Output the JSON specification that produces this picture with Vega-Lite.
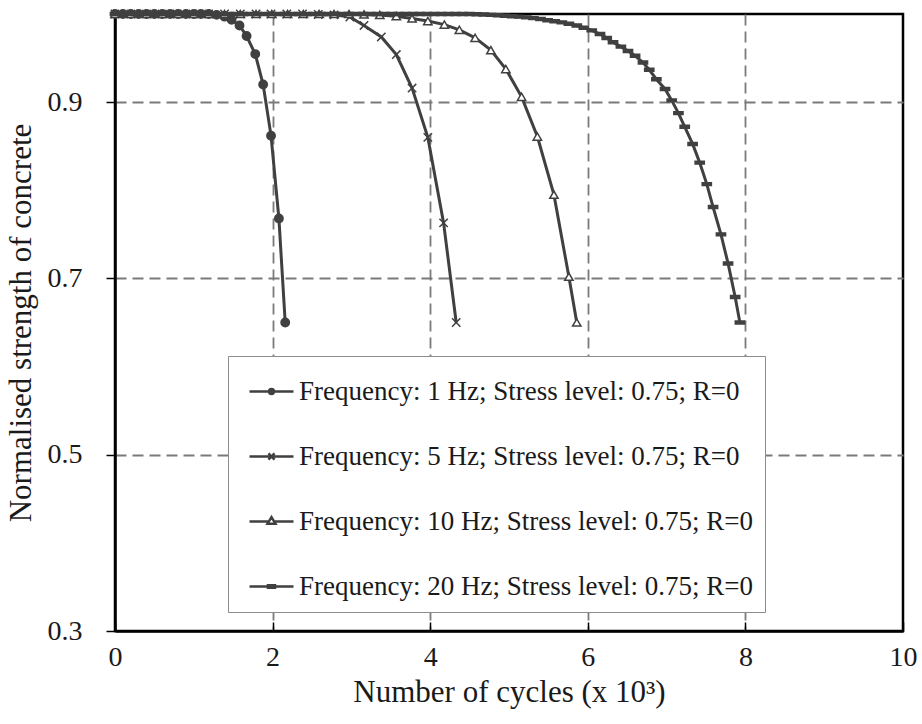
{
  "$schema": "https://vega.github.io/schema/vega-lite/v6.json",
  "width": 788,
  "height": 617,
  "autosize": {"type": "none"},
  "padding": {"left": 115, "top": 14, "right": 19, "bottom": 93},
  "background": "white",
  "data": {
    "values": [
      {"f": "1", "n": 0, "s": 1}, {"f": "1", "n": 0.1, "s": 1}, {"f": "1", "n": 0.2, "s": 1}, {"f": "1", "n": 0.3, "s": 1},
      {"f": "1", "n": 0.4, "s": 1}, {"f": "1", "n": 0.5, "s": 1}, {"f": "1", "n": 0.6, "s": 1}, {"f": "1", "n": 0.7, "s": 1},
      {"f": "1", "n": 0.8, "s": 1}, {"f": "1", "n": 0.9, "s": 1}, {"f": "1", "n": 1.0, "s": 1}, {"f": "1", "n": 1.09, "s": 1},
      {"f": "1", "n": 1.19, "s": 1}, {"f": "1", "n": 1.29, "s": 0.999}, {"f": "1", "n": 1.39, "s": 0.997},
      {"f": "1", "n": 1.48, "s": 0.9935}, {"f": "1", "n": 1.58, "s": 0.987}, {"f": "1", "n": 1.67, "s": 0.975},
      {"f": "1", "n": 1.78, "s": 0.9545}, {"f": "1", "n": 1.88, "s": 0.92}, {"f": "1", "n": 1.98, "s": 0.862},
      {"f": "1", "n": 2.08, "s": 0.768}, {"f": "1", "n": 2.16, "s": 0.65},

      {"f": "5", "n": 0, "s": 1}, {"f": "5", "n": 0.2, "s": 1}, {"f": "5", "n": 0.4, "s": 1}, {"f": "5", "n": 0.6, "s": 1},
      {"f": "5", "n": 0.79, "s": 1}, {"f": "5", "n": 0.99, "s": 1}, {"f": "5", "n": 1.19, "s": 1}, {"f": "5", "n": 1.39, "s": 1},
      {"f": "5", "n": 1.59, "s": 1}, {"f": "5", "n": 1.79, "s": 1}, {"f": "5", "n": 1.98, "s": 1}, {"f": "5", "n": 2.18, "s": 1},
      {"f": "5", "n": 2.38, "s": 1}, {"f": "5", "n": 2.58, "s": 0.9995}, {"f": "5", "n": 2.78, "s": 0.999},
      {"f": "5", "n": 2.98, "s": 0.9966}, {"f": "5", "n": 3.16, "s": 0.987}, {"f": "5", "n": 3.38, "s": 0.974},
      {"f": "5", "n": 3.57, "s": 0.954}, {"f": "5", "n": 3.77, "s": 0.916}, {"f": "5", "n": 3.97, "s": 0.86},
      {"f": "5", "n": 4.17, "s": 0.763}, {"f": "5", "n": 4.33, "s": 0.65},

      {"f": "10", "n": 0, "s": 1}, {"f": "10", "n": 0.2, "s": 1}, {"f": "10", "n": 0.4, "s": 1}, {"f": "10", "n": 0.6, "s": 1},
      {"f": "10", "n": 0.8, "s": 1}, {"f": "10", "n": 1.0, "s": 1}, {"f": "10", "n": 1.19, "s": 1}, {"f": "10", "n": 1.39, "s": 1},
      {"f": "10", "n": 1.59, "s": 1}, {"f": "10", "n": 1.79, "s": 1}, {"f": "10", "n": 1.99, "s": 1}, {"f": "10", "n": 2.19, "s": 1},
      {"f": "10", "n": 2.39, "s": 1}, {"f": "10", "n": 2.59, "s": 1}, {"f": "10", "n": 2.78, "s": 1}, {"f": "10", "n": 2.97, "s": 1},
      {"f": "10", "n": 3.16, "s": 0.9995}, {"f": "10", "n": 3.36, "s": 0.999}, {"f": "10", "n": 3.57, "s": 0.9975},
      {"f": "10", "n": 3.77, "s": 0.995}, {"f": "10", "n": 3.97, "s": 0.992}, {"f": "10", "n": 4.18, "s": 0.988},
      {"f": "10", "n": 4.37, "s": 0.982}, {"f": "10", "n": 4.57, "s": 0.973}, {"f": "10", "n": 4.77, "s": 0.959},
      {"f": "10", "n": 4.96, "s": 0.9375}, {"f": "10", "n": 5.16, "s": 0.906}, {"f": "10", "n": 5.36, "s": 0.861},
      {"f": "10", "n": 5.57, "s": 0.795}, {"f": "10", "n": 5.76, "s": 0.702}, {"f": "10", "n": 5.86, "s": 0.65},

      {"f": "20", "n": 0, "s": 1}, {"f": "20", "n": 0.09, "s": 1}, {"f": "20", "n": 0.18, "s": 1}, {"f": "20", "n": 0.27, "s": 1},
      {"f": "20", "n": 0.36, "s": 1}, {"f": "20", "n": 0.45, "s": 1}, {"f": "20", "n": 0.54, "s": 1}, {"f": "20", "n": 0.63, "s": 1},
      {"f": "20", "n": 0.72, "s": 1}, {"f": "20", "n": 0.81, "s": 1}, {"f": "20", "n": 0.9, "s": 1}, {"f": "20", "n": 0.99, "s": 1},
      {"f": "20", "n": 1.08, "s": 1}, {"f": "20", "n": 1.17, "s": 1}, {"f": "20", "n": 1.26, "s": 1}, {"f": "20", "n": 1.35, "s": 1},
      {"f": "20", "n": 1.44, "s": 1}, {"f": "20", "n": 1.53, "s": 1}, {"f": "20", "n": 1.62, "s": 1}, {"f": "20", "n": 1.71, "s": 1},
      {"f": "20", "n": 1.8, "s": 1}, {"f": "20", "n": 1.89, "s": 1}, {"f": "20", "n": 1.98, "s": 1}, {"f": "20", "n": 2.07, "s": 1},
      {"f": "20", "n": 2.16, "s": 1}, {"f": "20", "n": 2.25, "s": 1}, {"f": "20", "n": 2.34, "s": 1}, {"f": "20", "n": 2.43, "s": 1},
      {"f": "20", "n": 2.52, "s": 1}, {"f": "20", "n": 2.61, "s": 1}, {"f": "20", "n": 2.7, "s": 1}, {"f": "20", "n": 2.79, "s": 1},
      {"f": "20", "n": 2.88, "s": 1}, {"f": "20", "n": 2.97, "s": 1}, {"f": "20", "n": 3.06, "s": 1}, {"f": "20", "n": 3.15, "s": 1},
      {"f": "20", "n": 3.24, "s": 1}, {"f": "20", "n": 3.33, "s": 1}, {"f": "20", "n": 3.42, "s": 1}, {"f": "20", "n": 3.51, "s": 1},
      {"f": "20", "n": 3.6, "s": 1}, {"f": "20", "n": 3.69, "s": 1}, {"f": "20", "n": 3.78, "s": 1}, {"f": "20", "n": 3.87, "s": 1},
      {"f": "20", "n": 3.96, "s": 1}, {"f": "20", "n": 4.05, "s": 1}, {"f": "20", "n": 4.14, "s": 1}, {"f": "20", "n": 4.23, "s": 1},
      {"f": "20", "n": 4.32, "s": 1}, {"f": "20", "n": 4.41, "s": 1}, {"f": "20", "n": 4.5, "s": 1}, {"f": "20", "n": 4.59, "s": 0.9998},
      {"f": "20", "n": 4.68, "s": 0.9995}, {"f": "20", "n": 4.77, "s": 0.999}, {"f": "20", "n": 4.86, "s": 0.9985},
      {"f": "20", "n": 4.95, "s": 0.998}, {"f": "20", "n": 5.04, "s": 0.9975}, {"f": "20", "n": 5.13, "s": 0.997},
      {"f": "20", "n": 5.22, "s": 0.9962}, {"f": "20", "n": 5.31, "s": 0.9953}, {"f": "20", "n": 5.4, "s": 0.9943},
      {"f": "20", "n": 5.49, "s": 0.993}, {"f": "20", "n": 5.58, "s": 0.9918}, {"f": "20", "n": 5.67, "s": 0.9905},
      {"f": "20", "n": 5.76, "s": 0.989}, {"f": "20", "n": 5.86, "s": 0.987}, {"f": "20", "n": 5.95, "s": 0.9845},
      {"f": "20", "n": 6.05, "s": 0.9814}, {"f": "20", "n": 6.155, "s": 0.9773}, {"f": "20", "n": 6.24, "s": 0.9727},
      {"f": "20", "n": 6.32, "s": 0.968}, {"f": "20", "n": 6.42, "s": 0.963}, {"f": "20", "n": 6.51, "s": 0.958},
      {"f": "20", "n": 6.6, "s": 0.9526}, {"f": "20", "n": 6.7, "s": 0.945}, {"f": "20", "n": 6.78, "s": 0.9367},
      {"f": "20", "n": 6.87, "s": 0.926}, {"f": "20", "n": 6.98, "s": 0.915}, {"f": "20", "n": 7.065, "s": 0.902},
      {"f": "20", "n": 7.15, "s": 0.8875}, {"f": "20", "n": 7.23, "s": 0.872}, {"f": "20", "n": 7.33, "s": 0.8526},
      {"f": "20", "n": 7.42, "s": 0.8314}, {"f": "20", "n": 7.51, "s": 0.807}, {"f": "20", "n": 7.59, "s": 0.781},
      {"f": "20", "n": 7.69, "s": 0.75}, {"f": "20", "n": 7.78, "s": 0.717}, {"f": "20", "n": 7.87, "s": 0.679},
      {"f": "20", "n": 7.93, "s": 0.65}
    ]
  },
  "encoding": {
    "x": {
      "field": "n",
      "type": "quantitative",
      "title": "Number of cycles (x 10³)",
      "scale": {"domain": [0, 10], "nice": false},
      "axis": {
        "values": [0, 2, 4, 6, 8, 10],
        "grid": true,
        "gridOpacity": {"condition": {"test": "datum.value == 0 || datum.value == 10", "value": 0}, "value": 1},
        "tickSize": -9,
        "labelPadding": 21,
        "labelFlush": false,
        "labelFont": "Liberation Serif",
        "titleFont": "Liberation Serif",
        "titlePadding": 6
      }
    },
    "y": {
      "field": "s",
      "type": "quantitative",
      "title": "Normalised strength  of concrete",
      "scale": {"domain": [0.3, 1.0], "nice": false, "zero": false},
      "axis": {
        "values": [0.3, 0.5, 0.7, 0.9],
        "format": ".1f",
        "grid": true,
        "gridOpacity": {"condition": {"test": "datum.value < 0.4", "value": 0}, "value": 1},
        "tickSize": 9,
        "labelPadding": 24,
        "labelFlush": false,
        "labelFont": "Liberation Serif",
        "titleFont": "Liberation Serif",
        "titlePadding": 10
      }
    }
  },
  "layer": [
    {
      "mark": {"type": "line", "color": "#404040", "strokeWidth": 3},
      "encoding": {"detail": {"field": "f"}}
    },
    {
      "mark": {"type": "point", "stroke": "#404040", "strokeWidth": 1.5, "size": 70, "opacity": 1},
      "encoding": {
        "shape": {
          "field": "f",
          "scale": {
            "domain": ["1", "5", "10", "20"],
            "range": ["circle", "M-1,-1L1,1M-1,1L1,-1", "triangle-up", "M-1.1,-0.35H1.1V0.35H-1.1Z"]
          },
          "legend": null
        },
        "fill": {
          "field": "f",
          "scale": {"domain": ["1", "5", "10", "20"], "range": ["#404040", "#404040", "#ffffff", "#404040"]},
          "legend": null
        }
      }
    },
    {
      "transform": [{"filter": "datum.n < 0"}],
      "mark": {"type": "point", "filled": false, "stroke": "#404040", "strokeWidth": 2.5, "opacity": 1},
      "encoding": {
        "shape": {
          "field": "f",
          "scale": {
            "domain": ["1", "5", "10", "20"],
            "range": [
              "M-1,0H1M-0.11,0A0.11,0.11,0,1,0,0.11,0A0.11,0.11,0,1,0,-0.11,0",
              "M-1,0H1M-0.14,-0.14L0.14,0.14M-0.14,0.14L0.14,-0.14",
              "M-1,0H-0.12M0.12,0H1M-0.18,0.1L0,-0.2L0.18,0.1Z",
              "M-1,0H1M-0.16,-0.06H0.16V0.06H-0.16Z"
            ]
          },
          "legend": {
            "orient": "none",
            "legendX": 113,
            "legendY": 342,
            "title": null,
            "padding": 12,
            "strokeColor": "#8c8c8c",
            "fillColor": "#ffffff",
            "symbolSize": 1936,
            "symbolStrokeWidth": 2.5,
            "symbolStrokeColor": "#404040",
            "symbolFillColor": "transparent",
            "symbolOffset": 8,
            "labelOffset": 4,
            "labelFontSize": 27,
            "labelFont": "Liberation Serif",
            "labelColor": "#1a1a1a",
            "rowPadding": 28,
            "labelLimit": 0,
            "labelExpr": "'Frequency: ' + datum.label + ' Hz; Stress level: 0.75; R=0'"
          }
        }
      }
    }
  ],
  "resolve": {"scale": {"shape": "independent", "fill": "independent"}},
  "config": {
    "view": {"stroke": "#000000", "strokeWidth": 2.5},
    "axis": {
      "domainColor": "#000000",
      "domainWidth": 2.5,
      "tickColor": "#000000",
      "tickWidth": 1.5,
      "gridColor": "#7a7a7a",
      "gridDash": [11, 6],
      "gridWidth": 1.8,
      "labelFontSize": 28,
      "labelColor": "#1a1a1a",
      "titleFontSize": 31,
      "titleFontWeight": "normal",
      "titleColor": "#1a1a1a"
    }
  }
}
